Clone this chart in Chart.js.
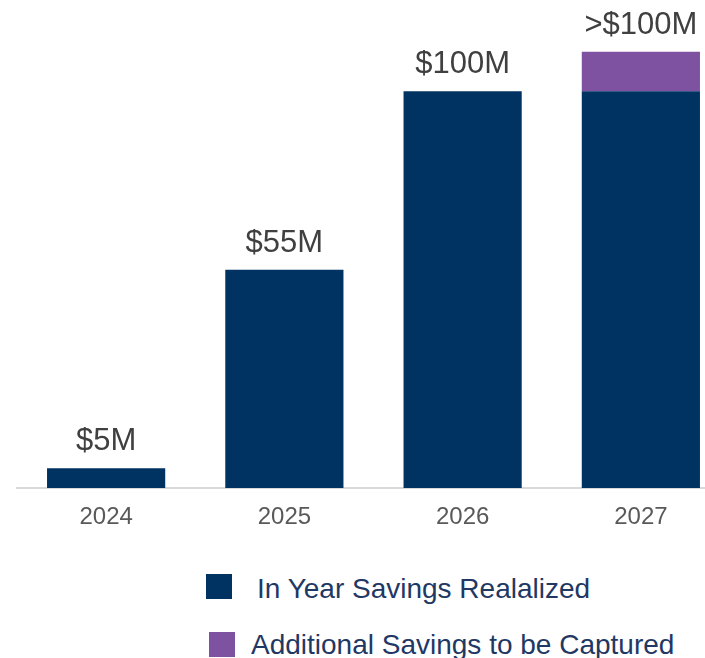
<!DOCTYPE html>
<html>
<head>
<meta charset="utf-8">
<script src="https://cdn.jsdelivr.net/npm/chart.js@4"></script>
<style>
  html, body { margin: 0; padding: 0; background: #fff; }
  .wrap { position: relative; width: 705px; height: 658px; overflow: hidden; }
  .chart-box { position: absolute; left: 0; top: 0; width: 730px; height: 540px; }
  .legend-item { position: absolute; font-family: "Liberation Sans", Arial, sans-serif; font-size: 28px; line-height: 28px; color: #1f3864; white-space: nowrap; }
  .swatch { position: absolute; width: 26px; height: 25px; }
</style>
</head>
<body>
<div class="wrap">
  <div class="chart-box"><canvas id="savingsChart" width="730" height="540"></canvas></div>
  <div class="swatch" id="sw0" style="left:206px; top:574px;"></div>
  <div class="legend-item" id="lg0" style="left:257px; top:575px;"></div>
  <div class="swatch" id="sw1" style="left:209px; top:632px;"></div>
  <div class="legend-item" id="lg1" style="left:251px; top:631px;"></div>
</div>
<script>
const years = ['2024', '2025', '2026', '2027'];
const realized = [5, 55, 100, 100];      // $M
const additional = [0, 0, 0, 10];        // $M still to be captured
const totalLabels = ['$5M', '$55M', '$100M', '>$100M'];
const seriesNames = ['In Year Savings Realalized', 'Additional Savings to be Captured'];
const seriesColors = ['#003262', '#7f51a1'];

// legend swatches + text
seriesNames.forEach((name, i) => {
    document.getElementById('sw' + i).style.background = seriesColors[i];
    document.getElementById('lg' + i).textContent = name;
});

// puts the total label above each stacked column
const totalsPlugin = {
    id: 'totals',
    afterDatasetsDraw(chart) {
        const ctx = chart.ctx;
        const yScale = chart.scales.y;
        const meta = chart.getDatasetMeta(0);
        ctx.save();
        ctx.font = '31px "Liberation Sans", Arial, sans-serif';
        ctx.fillStyle = '#404040';
        ctx.textAlign = 'center';
        ctx.textBaseline = 'alphabetic';
        meta.data.forEach((bar, i) => {
            const total = realized[i] + additional[i];
            ctx.fillText(totalLabels[i], bar.x, yScale.getPixelForValue(total) - 18);
        });
        ctx.restore();
    }
};

new Chart(document.getElementById('savingsChart'), {
    type: 'bar',
    data: {
        labels: years,
        datasets: [
            { label: seriesNames[0], data: realized, backgroundColor: seriesColors[0] },
            { label: seriesNames[1], data: additional, backgroundColor: seriesColors[1] }
        ]
    },
    options: {
        responsive: false,
        animation: false,
        layout: { padding: { left: 17, top: 12, right: 0, bottom: 0 } },
        datasets: { bar: { barPercentage: 0.663, categoryPercentage: 1 } },
        plugins: { legend: { display: false }, tooltip: { enabled: false } },
        scales: {
            x: {
                stacked: true,
                grid: { display: false, drawTicks: false },
                border: { display: true, color: '#d9d9d9', width: 2 },
                ticks: { color: '#595959', padding: 15, font: { family: '"Liberation Sans", Arial, sans-serif', size: 24 } },
                afterFit(scale) { scale.height = 52; }
            },
            y: {
                stacked: true,
                display: false,
                min: 0,
                max: 120
            }
        }
    },
    plugins: [totalsPlugin]
});
</script>
</body>
</html>
